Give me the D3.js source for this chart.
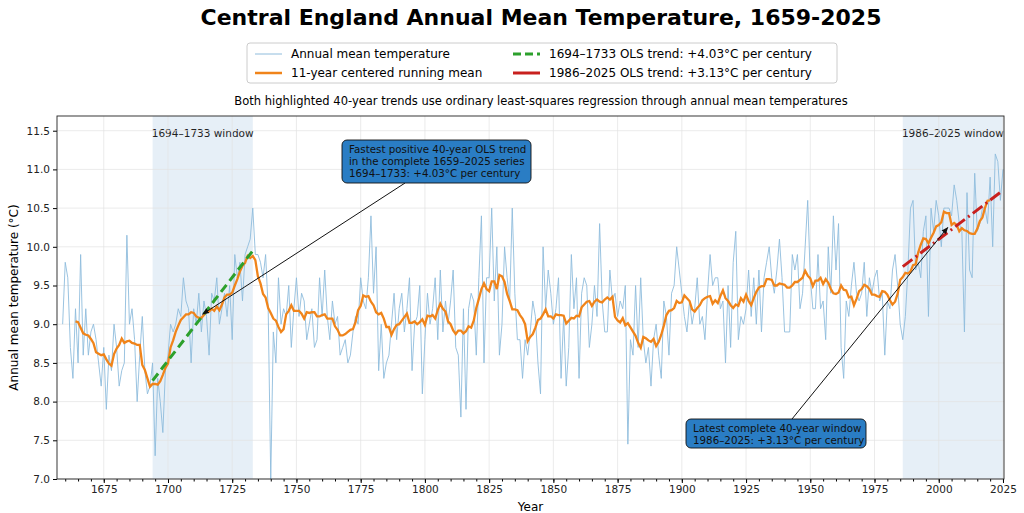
<!DOCTYPE html>
<html><head><meta charset="utf-8">
<script src="https://cdn.jsdelivr.net/npm/d3@7"></script>
<style>body{margin:0;background:#fff;font-family:"DejaVu Sans",sans-serif;}</style>
</head><body><svg id="chart" width="1024" height="513"></svg>
<script>
// Annual means, 1659 onwards
var startYear = 1659;
var temps = [
  9.0, 9.8, 9.6, 8.7, 8.3, 9.2, 8.5, 9.9, 8.6, 9.2,
  8.6, 8.9, 9.0, 8.8, 8.5, 8.2, 8.7, 7.9, 8.6, 8.4,
  9.0, 8.7, 8.2, 8.4, 8.5, 10.15, 9.0, 9.2, 8.8, 8.0,
  8.6, 9.1, 8.4, 8.1, 8.2, 8.5, 7.3, 8.3, 8.0, 7.6,
  8.4, 8.6, 9.0, 8.9, 9.0, 9.2, 9.1, 9.6, 9.3, 9.2,
  8.5, 9.2, 9.0, 9.4, 8.9, 9.3, 9.1, 8.6, 9.4, 9.3,
  9.6, 9.0, 9.2, 9.4, 9.1, 9.5, 8.8, 9.9, 9.6, 9.8,
  9.3, 9.9, 10.0, 10.1, 10.5, 9.9, 9.9, 9.8, 9.6, 9.9,
  9.2, 7.0, 8.9, 8.5, 9.6, 9.0, 9.2, 9.1, 9.5, 8.7,
  9.2, 9.6, 9.1, 9.4, 9.3, 8.8, 9.0, 9.2, 8.7, 8.8,
  9.6, 9.1, 9.7, 9.1, 8.8, 9.3, 9.0, 9.1, 8.6, 8.7,
  8.8, 8.5, 8.6, 8.9, 9.1, 9.0, 9.6, 9.3, 9.2, 9.6,
  10.4, 9.4, 10.0, 8.4, 9.0, 8.3, 8.5, 8.6, 9.0, 9.4,
  8.8, 9.2, 9.4, 8.9, 9.2, 9.6, 8.4, 9.0, 9.1, 9.5,
  8.1, 8.8, 9.4, 9.0, 9.2, 9.6, 8.8, 9.7, 8.9, 9.3,
  9.0, 9.3, 9.7, 8.7, 8.6, 7.8, 9.2, 7.9, 9.2, 9.4,
  9.3, 8.6, 9.6, 10.4, 8.5, 9.6, 9.6, 10.5, 9.3, 10.0,
  8.6, 9.0, 10.0, 9.6, 9.3, 10.5, 9.4, 8.8, 8.8, 8.3,
  8.8, 8.6, 8.9, 9.3, 9.1, 8.5, 8.1, 10.0, 9.2, 9.7,
  9.4, 9.0, 9.2, 9.6, 8.3, 9.1, 8.2, 8.7, 9.9, 9.2,
  9.6, 8.3, 9.4, 9.6, 9.5, 8.7, 9.0, 9.5, 9.1, 10.3,
  9.3, 8.9, 8.9, 9.7, 9.3, 9.4, 9.1, 9.3, 9.2, 9.5,
  7.45, 8.8, 8.6, 9.5, 8.7, 9.6, 8.8, 8.5, 8.7, 8.2,
  8.8, 9.0, 8.6, 8.3, 9.3, 9.1, 8.6, 9.4, 9.5, 10.0,
  9.7, 9.4, 9.1, 8.9, 9.3, 9.0, 9.2, 9.6, 9.0, 9.1,
  8.8, 9.4, 9.9, 9.5, 9.6, 9.6, 9.2, 9.3, 8.5, 9.5,
  8.7, 9.8, 10.2, 8.8, 9.1, 9.0, 9.2, 9.7, 9.1, 9.6,
  9.0, 9.7, 8.9, 9.6, 9.8, 10.0, 9.6, 9.4, 9.7, 10.1,
  9.6, 8.9, 8.9, 8.9, 9.9, 9.7, 9.9, 9.2, 9.4, 10.0,
  10.6, 9.6, 9.2, 9.2, 9.9, 9.2, 9.3, 8.8, 10.0, 9.4,
  10.4, 9.7, 10.3, 8.7, 8.3, 9.3, 9.1, 9.5, 9.8, 9.4,
  9.3, 9.4, 9.8, 9.1, 9.6, 9.4, 9.6, 9.7, 9.3, 9.4,
  8.6, 9.3, 9.2, 9.7, 9.9, 9.5, 9.0, 8.8, 9.1, 9.7,
  10.5, 10.6, 9.7, 9.8, 9.6, 10.2, 10.4, 9.1, 10.5, 10.2,
  10.6, 10.4, 10.0, 10.5, 10.5, 10.5, 10.4, 10.8, 10.6, 10.3,
  10.2, 8.9, 10.7, 9.7, 9.6, 10.95, 10.2, 10.3, 10.5, 10.5,
  10.3, 10.9, 10.0, 11.2, 11.1, 10.6, 11.0
];
var windows = [[1694, 1733], [1986, 2025]];
var yTicks = [7.0, 7.5, 8.0, 8.5, 9.0, 9.5, 10.0, 10.5, 11.0, 11.5];
var xTicks = [1675, 1700, 1725, 1750, 1775, 1800, 1825, 1850, 1875, 1900, 1925, 1950, 1975, 2000, 2025];

var data = temps.map(function (t, i) { return { year: startYear + i, t: t }; });

// 11-year centered running mean
var runMean = [];
for (var i = 5; i < data.length - 5; i++) {
  runMean.push({ year: data[i].year, t: d3.mean(data.slice(i - 5, i + 6), function (d) { return d.t; }) });
}

// OLS fit through a window
function ols(y0, y1) {
  var pts = data.filter(function (d) { return d.year >= y0 && d.year <= y1; });
  var mx = d3.mean(pts, function (d) { return d.year; }), my = d3.mean(pts, function (d) { return d.t; });
  var num = d3.sum(pts, function (d) { return (d.year - mx) * (d.t - my); });
  var den = d3.sum(pts, function (d) { return (d.year - mx) * (d.year - mx); });
  var b = num / den;
  return [{ year: y0, t: my + b * (y0 - mx) }, { year: y1, t: my + b * (y1 - mx) }];
}

var svg = d3.select('#chart');
var margin = { left: 57, right: 20, top: 116, bottom: 34 };
var W = 1024, H = 513;
var x = d3.scaleLinear().domain([1656.8, 2025.4]).range([margin.left, W - margin.right]);
var y = d3.scaleLinear().domain([7.0, 11.69]).range([H - margin.bottom, margin.top]);

// shaded windows
windows.forEach(function (w) {
  svg.append('rect').attr('x', x(w[0])).attr('width', x(w[1]) - x(w[0]))
    .attr('y', margin.top).attr('height', y(7.0) - margin.top)
    .attr('fill', '#dce8f3').attr('opacity', 0.7);
  svg.append('text').attr('x', (x(w[0]) + x(w[1])) / 2).attr('y', 137)
    .attr('text-anchor', 'middle').attr('font-size', 10.5).attr('fill', '#222')
    .text(w[0] + '–' + w[1] + ' window');
});

// grid
svg.append('g').selectAll('line').data(yTicks).enter().append('line')
  .attr('x1', margin.left).attr('x2', W - margin.right)
  .attr('y1', function (d) { return y(d); }).attr('y2', function (d) { return y(d); })
  .attr('stroke', '#e3e3e3').attr('stroke-width', 0.7);
svg.append('g').selectAll('line').data(xTicks).enter().append('line')
  .attr('y1', margin.top).attr('y2', H - margin.bottom)
  .attr('x1', function (d) { return x(d); }).attr('x2', function (d) { return x(d); })
  .attr('stroke', '#e3e3e3').attr('stroke-width', 0.7);

var line = d3.line().x(function (d) { return x(d.year); }).y(function (d) { return y(d.t); });

svg.append('path').datum(data).attr('d', line).attr('fill', 'none')
  .attr('stroke', '#8fbcdc').attr('stroke-width', 0.9);
svg.append('path').datum(runMean).attr('d', line).attr('fill', 'none')
  .attr('stroke', '#f0841a').attr('stroke-width', 2.3);

svg.append('path').datum(ols(1694, 1733)).attr('d', line).attr('fill', 'none')
  .attr('stroke', '#2ca02c').attr('stroke-width', 3).attr('stroke-dasharray', '9,5');
svg.append('path').datum(ols(1986, 2025)).attr('d', line).attr('fill', 'none')
  .attr('stroke', '#c8201e').attr('stroke-width', 3).attr('stroke-dasharray', '12,4,2,4');

// axes
var minor = d3.range(1660, 2026, 5);
svg.append('g').attr('transform', 'translate(0,' + (H - margin.bottom) + ')')
  .call(d3.axisBottom(x).tickValues(minor).tickFormat('').tickSize(2.5))
  .call(function (g) { g.select('.domain').remove(); });
var xAxis = svg.append('g').attr('transform', 'translate(0,' + (H - margin.bottom) + ')')
  .call(d3.axisBottom(x).tickValues(xTicks).tickFormat(d3.format('d')).tickSize(4));
var yAxis = svg.append('g').attr('transform', 'translate(' + margin.left + ',0)')
  .call(d3.axisLeft(y).tickValues(yTicks).tickFormat(d3.format('.1f')).tickSize(4));
[xAxis, yAxis].forEach(function (g) {
  g.selectAll('text').attr('font-size', 10.5).attr('fill', '#222').attr('font-family', 'DejaVu Sans');
  g.select('.domain').remove();
});
svg.append('rect').attr('x', margin.left).attr('y', margin.top)
  .attr('width', W - margin.right - margin.left).attr('height', H - margin.bottom - margin.top)
  .attr('fill', 'none').attr('stroke', '#222').attr('stroke-width', 0.9);

svg.append('text').attr('x', (margin.left + W - margin.right) / 2).attr('y', 511)
  .attr('text-anchor', 'middle').attr('font-size', 12).text('Year');
svg.append('text').attr('transform', 'translate(18,' + ((margin.top + H - margin.bottom) / 2) + ') rotate(-90)')
  .attr('text-anchor', 'middle').attr('font-size', 12).text('Annual mean temperature (°C)');

// annotations
svg.append('defs').append('marker').attr('id', 'arr').attr('viewBox', '0 0 10 10')
  .attr('refX', 9).attr('refY', 5).attr('markerWidth', 7).attr('markerHeight', 7).attr('orient', 'auto')
  .append('path').attr('d', 'M0,1 L10,5 L0,9 z').attr('fill', '#111');

function annotate(lines, bx, by, bw, bh, sx, sy, tx, ty) {
  svg.append('line').attr('x1', sx).attr('y1', sy).attr('x2', x(tx)).attr('y2', y(ty))
    .attr('stroke', '#111').attr('stroke-width', 1).attr('marker-end', 'url(#arr)');
  svg.append('rect').attr('x', bx).attr('y', by).attr('width', bw).attr('height', bh)
    .attr('rx', 5).attr('fill', '#2a7dc4').attr('stroke', '#111').attr('stroke-width', 0.9);
  lines.forEach(function (t, i) {
    svg.append('text').attr('x', bx + 7).attr('y', by + 13 + i * 12).attr('font-size', 10.3)
      .attr('fill', '#111').text(t);
  });
}
annotate(['Fastest positive 40-year OLS trend', 'in the complete 1659–2025 series', '1694–1733: +4.03°C per century'],
  342, 140, 189, 43, 405, 183, 1713.5, 9.13);
annotate(['Latest complete 40-year window', '1986–2025: +3.13°C per century'],
  686, 419, 180, 29, 792, 419, 2003.5, 10.25);

// title, legend, subtitle
svg.append('text').attr('x', 541).attr('y', 25).attr('text-anchor', 'middle')
  .attr('font-size', 22).attr('font-weight', 'bold').text('Central England Annual Mean Temperature, 1659-2025');
svg.append('text').attr('x', 541).attr('y', 105).attr('text-anchor', 'middle')
  .attr('font-size', 11.5).text('Both highlighted 40-year trends use ordinary least-squares regression through annual mean temperatures');

svg.append('rect').attr('x', 247).attr('y', 43).attr('width', 590).attr('height', 40)
  .attr('rx', 3).attr('fill', '#fff').attr('stroke', '#ccc');
var legend = [
  { label: 'Annual mean temperature', color: '#8fbcdc', w: 1, dash: null, lx: 255, ly: 54 },
  { label: '11-year centered running mean', color: '#f0841a', w: 2.5, dash: null, lx: 255, ly: 73 },
  { label: '1694–1733 OLS trend: +4.03°C per century', color: '#2ca02c', w: 3, dash: '8,4', lx: 513, ly: 54 },
  { label: '1986–2025 OLS trend: +3.13°C per century', color: '#c8201e', w: 3, dash: null, lx: 513, ly: 73 }
];
legend.forEach(function (d) {
  svg.append('line').attr('x1', d.lx).attr('x2', d.lx + 27).attr('y1', d.ly).attr('y2', d.ly)
    .attr('stroke', d.color).attr('stroke-width', d.w).attr('stroke-dasharray', d.dash);
  svg.append('text').attr('x', d.lx + 36).attr('y', d.ly + 4).attr('font-size', 12).text(d.label);
});
</script></body></html>
